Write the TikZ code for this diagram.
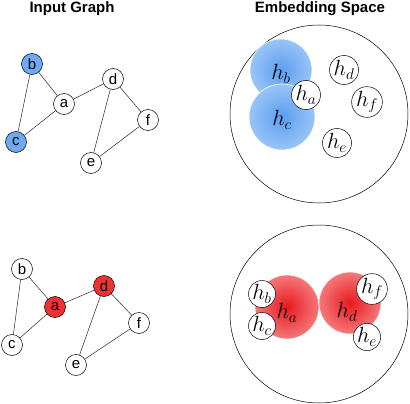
\RequirePackage{fix-cm}
\documentclass[tikz,border=0pt]{standalone}
\usepackage{fontspec}
\setmainfont{Liberation Sans}
\definecolor{nodeblue}{RGB}{110,170,240}
\definecolor{nodered}{RGB}{238,50,50}
\pgfdeclareradialshading{blueblob}{\pgfpoint{0bp}{0bp}}{rgb(0bp)=(0.36,0.62,0.94); rgb(25bp)=(0.60,0.77,0.97); rgb(50bp)=(0.83,0.91,0.99)}
\pgfdeclareradialshading{redblob}{\pgfpoint{0bp}{0bp}}{rgb(0bp)=(0.91,0.10,0.12); rgb(25bp)=(0.96,0.47,0.48); rgb(50bp)=(0.99,0.85,0.85)}
\tikzset{
  gnode/.style={circle, draw=black, line width=0.5pt, fill=white, minimum size=21pt, inner sep=0pt, font=\fontsize{15}{15}\selectfont},
  enode/.style={circle, draw=black, line width=0.5pt, fill=white, minimum size=29pt, inner sep=0pt, font=\fontsize{22}{22}\selectfont},
  lbl/.style={inner sep=0pt, font=\fontsize{22}{22}\selectfont},
  gedge/.style={line width=0.5pt, draw=black!85},
  title/.style={font=\bfseries\fontsize{15}{18}\selectfont},
  space/.style={draw=black, line width=0.5pt},
  bblob/.style={shading=blueblob, draw=white, line width=0.6pt},
  rblob/.style={shading=redblob, draw=white, line width=0.6pt}
}
\begin{document}
\begin{tikzpicture}[x=1pt, y=-1pt]
\useasboundingbox (0,0) rectangle (410,404);
% titles
\node[title] (t1) at (72,9) {Input Graph};
\node[title] (t2) at (320,9) {Embedding Space};

% ---------- top input graph ----------
\node[gnode, fill=nodeblue] (b1) at (32,64) {b};
\node[gnode] (a1) at (64,104) {a};
\node[gnode] (d1) at (113,79) {d};
\node[gnode] (f1) at (148,120) {f};
\node[gnode, fill=nodeblue] (c1) at (16,142) {c};
\node[gnode] (e1) at (91,163) {e};
\draw[gedge] (b1) -- (a1);
\draw[gedge] (b1) -- (c1);
\draw[gedge] (c1) -- (a1);
\draw[gedge] (a1) -- (d1);
\draw[gedge] (d1) -- (e1);
\draw[gedge] (d1) -- (f1);
\draw[gedge] (f1) -- (e1);

% ---------- bottom input graph ----------
\node[gnode] (b2) at (22,269) {b};
\node[gnode, fill=nodered] (a2) at (55,307) {a};
\node[gnode, fill=nodered] (d2) at (104,286) {d};
\node[gnode] (f2) at (139,323) {f};
\node[gnode] (c2) at (12,345) {c};
\node[gnode] (e2) at (76,365) {e};
\draw[gedge] (b2) -- (a2);
\draw[gedge] (b2) -- (c2);
\draw[gedge] (c2) -- (a2);
\draw[gedge] (a2) -- (d2);
\draw[gedge] (d2) -- (e2);
\draw[gedge] (d2) -- (f2);
\draw[gedge] (f2) -- (e2);

% ---------- top embedding space ----------
\draw[space] (319,114) circle[radius=89];
\shade[bblob] (281,70) circle[radius=31];
\shade[bblob] (282,117) circle[radius=33];
\node[lbl] (hb1) at (281,74) {$h_b$};
\node[lbl] (hc1) at (282,120) {$h_c$};
\node[enode] (ha1) at (306,95) {$h_a$};
\node[enode] (hd1) at (344,70) {$h_d$};
\node[enode] (hf1) at (367,102) {$h_f$};
\node[enode] (he1) at (337,143) {$h_e$};

% ---------- bottom embedding space ----------
\draw[space] (319,314) circle[radius=89];
\shade[rblob] (287,307) circle[radius=32];
\shade[rblob] (350,303) circle[radius=31];
\node[lbl] (ha2) at (287,313) {$h_a$};
\node[lbl] (hd2) at (347,312) {$h_d$};
\node[enode, minimum size=27pt] (hb2) at (262,294) {$h_b$};
\node[enode, minimum size=27pt] (hc2) at (262,326) {$h_c$};
\node[enode, minimum size=27pt] (hf2) at (372,289) {$h_f$};
\node[enode, minimum size=27pt] (he2) at (367,337) {$h_e$};
\end{tikzpicture}
\end{document}
